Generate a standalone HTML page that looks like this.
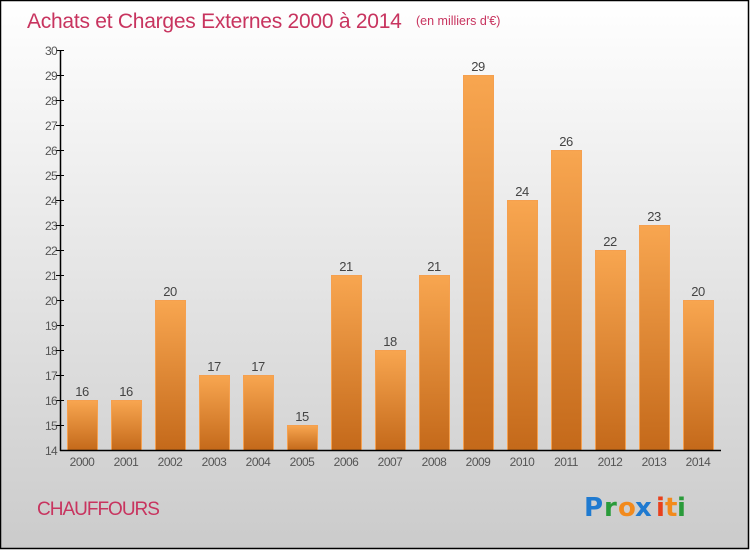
<!DOCTYPE html>
<html><head><meta charset="utf-8"><style>
html,body{margin:0;padding:0;}
body{width:750px;height:550px;overflow:hidden;}
svg{display:block;font-family:"Liberation Sans",sans-serif;}
</style></head><body>
<svg width="750" height="550" xmlns="http://www.w3.org/2000/svg">
<defs>
<linearGradient id="bg" x1="0" y1="0" x2="0" y2="1">
<stop offset="0" stop-color="#ffffff"/><stop offset="1" stop-color="#cbcbcb"/>
</linearGradient>
<linearGradient id="bar" x1="0" y1="0" x2="0" y2="1">
<stop offset="0" stop-color="#f8a650"/><stop offset="1" stop-color="#c4691a"/>
</linearGradient>
</defs>
<rect x="0.5" y="0.5" width="748" height="548" fill="url(#bg)" stroke="#000" stroke-width="1.5"/>
<text x="27" y="28" font-size="21" fill="#c8345f" letter-spacing="-0.25">Achats et Charges Externes 2000 à 2014</text>
<text x="416" y="25" font-size="12.5" fill="#c8345f">(en milliers d'€)</text>
<g id="bars" fill="url(#bar)" stroke="#f5a04f" stroke-width="1">
<rect x="67.5" y="400.5" width="30" height="50"/>
<rect x="111.5" y="400.5" width="30" height="50"/>
<rect x="155.5" y="300.5" width="30" height="150"/>
<rect x="199.5" y="375.5" width="30" height="75"/>
<rect x="243.5" y="375.5" width="30" height="75"/>
<rect x="287.5" y="425.5" width="30" height="25"/>
<rect x="331.5" y="275.5" width="30" height="175"/>
<rect x="375.5" y="350.5" width="30" height="100"/>
<rect x="419.5" y="275.5" width="30" height="175"/>
<rect x="463.5" y="75.5" width="30" height="375"/>
<rect x="507.5" y="200.5" width="30" height="250"/>
<rect x="551.5" y="150.5" width="30" height="300"/>
<rect x="595.5" y="250.5" width="30" height="200"/>
<rect x="639.5" y="225.5" width="30" height="225"/>
<rect x="683.5" y="300.5" width="30" height="150"/>
</g>
<g font-size="13" fill="#444" text-anchor="middle" letter-spacing="-0.5">
<text x="82" y="396">16</text><text x="126" y="396">16</text><text x="170" y="296">20</text>
<text x="214" y="371">17</text><text x="258" y="371">17</text><text x="302" y="421">15</text>
<text x="346" y="271">21</text><text x="390" y="346">18</text><text x="434" y="271">21</text>
<text x="478" y="71">29</text><text x="522" y="196">24</text><text x="566" y="146">26</text>
<text x="610" y="246">22</text><text x="654" y="221">23</text><text x="698" y="296">20</text>
</g>
<g font-size="12" fill="#555" text-anchor="middle" letter-spacing="-0.5">
<text x="82" y="466">2000</text><text x="126" y="466">2001</text><text x="170" y="466">2002</text>
<text x="214" y="466">2003</text><text x="258" y="466">2004</text><text x="302" y="466">2005</text>
<text x="346" y="466">2006</text><text x="390" y="466">2007</text><text x="434" y="466">2008</text>
<text x="478" y="466">2009</text><text x="522" y="466">2010</text><text x="566" y="466">2011</text>
<text x="610" y="466">2012</text><text x="654" y="466">2013</text><text x="698" y="466">2014</text>
</g>
<g stroke="#000" stroke-width="1.5">
<line x1="60.5" y1="50" x2="60.5" y2="451"/>
<line x1="60" y1="450.5" x2="721" y2="450.5"/>
</g>
<g stroke="#000" stroke-width="1">
<line x1="56" y1="50.5" x2="64" y2="50.5"/><line x1="56" y1="75.5" x2="64" y2="75.5"/>
<line x1="56" y1="100.5" x2="64" y2="100.5"/><line x1="56" y1="125.5" x2="64" y2="125.5"/>
<line x1="56" y1="150.5" x2="64" y2="150.5"/><line x1="56" y1="175.5" x2="64" y2="175.5"/>
<line x1="56" y1="200.5" x2="64" y2="200.5"/><line x1="56" y1="225.5" x2="64" y2="225.5"/>
<line x1="56" y1="250.5" x2="64" y2="250.5"/><line x1="56" y1="275.5" x2="64" y2="275.5"/>
<line x1="56" y1="300.5" x2="64" y2="300.5"/><line x1="56" y1="325.5" x2="64" y2="325.5"/>
<line x1="56" y1="350.5" x2="64" y2="350.5"/><line x1="56" y1="375.5" x2="64" y2="375.5"/>
<line x1="56" y1="400.5" x2="64" y2="400.5"/><line x1="56" y1="425.5" x2="64" y2="425.5"/>
</g>
<g font-size="12" fill="#555" text-anchor="end" letter-spacing="-0.7">
<text x="57" y="55">30</text><text x="57" y="80">29</text><text x="57" y="105">28</text>
<text x="57" y="130">27</text><text x="57" y="155">26</text><text x="57" y="180">25</text>
<text x="57" y="205">24</text><text x="57" y="230">23</text><text x="57" y="255">22</text>
<text x="57" y="280">21</text><text x="57" y="305">20</text><text x="57" y="330">19</text>
<text x="57" y="355">18</text><text x="57" y="380">17</text><text x="57" y="405">16</text>
<text x="57" y="430">15</text><text x="57" y="455">14</text>
</g>
<text x="37" y="515" font-size="19" fill="#c8345f" letter-spacing="-1">CHAUFFOURS</text>
<g font-size="26" font-weight="bold" font-family="'DejaVu Sans',sans-serif">
<text x="584" y="516" fill="#1f7ad0">P</text>
<text x="604" y="516" fill="#2a9b3a">r</text>
<text x="618" y="516" fill="#f28a1c">o</text>
<text x="635" y="516" fill="#1f7ad0">x</text>
<text x="656" y="516" fill="#e8401c">i</text>
<text x="665" y="516" fill="#f28a1c">t</text>
<text x="677" y="516" fill="#2a9b3a">i</text>
</g>
</svg>
</body></html>
